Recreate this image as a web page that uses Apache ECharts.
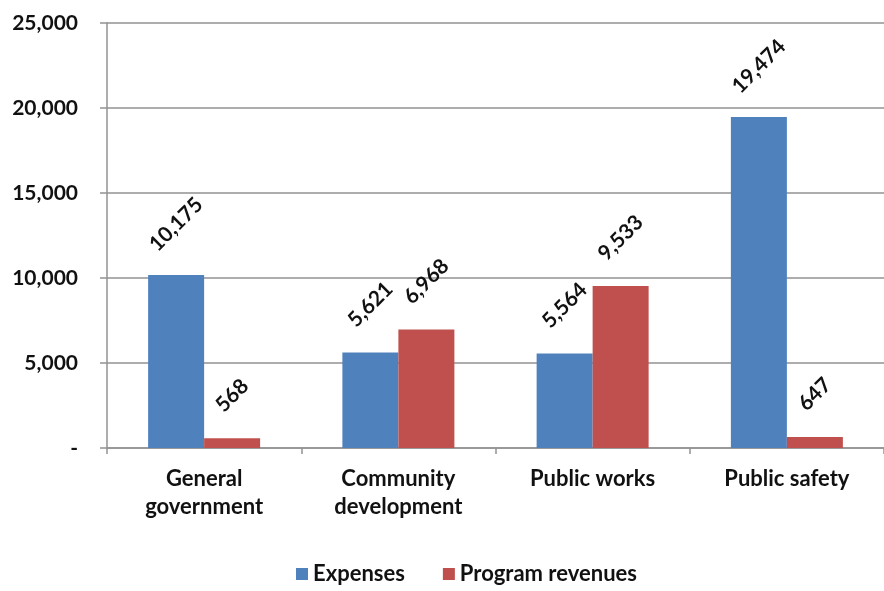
<!DOCTYPE html>
<html>
<head>
<meta charset="utf-8">
<script src="https://cdn.jsdelivr.net/npm/echarts@6/dist/echarts.min.js"></script>
<style>html,body{margin:0;padding:0;background:#fff}#c{width:884px;height:591px}</style>
</head>
<body>
<div id="c"></div>
<script>
var categories = ['General\ngovernment', 'Community\ndevelopment', 'Public works', 'Public safety'];
var expenses = [10175, 5621, 5564, 19474];
var programRevenues = [568, 6968, 9533, 647];
var yTicks = [0, 5000, 10000, 15000, 20000, 25000];

var FONT = 'Lato';
function fmt(v) { return v === 0 ? '-' : v.toLocaleString('en-US'); }
function labelled(values) {
  return values.map(function (v) {
    var n = fmt(v).length;
    return { value: v, label: { distance: 35 + 2.6 * n } };
  });
}
var labelStyle = {
  show: true, position: 'top', rotate: 45, align: 'center', verticalAlign: 'middle',
  fontFamily: FONT, fontWeight: 'bold', fontSize: 21, color: '#111',
  formatter: function (p) { return fmt(p.value); }
};

var chart = echarts.init(document.getElementById('c'), null, { renderer: 'canvas' });
chart.setOption({
  animation: false,
  backgroundColor: '#fff',
  grid: { left: 107, top: 23, bottom: 143, right: -9, containLabel: false },
  legend: {
    bottom: 1, left: 291, itemWidth: 12, itemHeight: 12, itemGap: 38, icon: 'rect',
    textStyle: { fontFamily: FONT, fontWeight: 'bold', fontSize: 22, color: '#111' },
    data: ['Expenses', 'Program revenues']
  },
  xAxis: {
    type: 'category', data: categories,
    axisLine: { lineStyle: { color: '#929292', width: 1.5 } },
    axisTick: { show: true, length: 6, lineStyle: { color: '#929292', width: 1.5 } },
    axisLabel: { fontFamily: FONT, fontWeight: 'bold', fontSize: 22, color: '#111', lineHeight: 28, margin: 17, interval: 0 }
  },
  yAxis: {
    type: 'value', min: yTicks[0], max: yTicks[yTicks.length - 1], interval: 5000,
    axisLine: { show: true, lineStyle: { color: '#929292', width: 1.5 } },
    axisTick: { show: true, length: 7, lineStyle: { color: '#929292', width: 1.5 } },
    splitLine: { lineStyle: { color: '#929292', width: 1.5 } },
    axisLabel: { fontFamily: FONT, fontWeight: 'bold', fontSize: 21, color: '#111', margin: 29, formatter: fmt }
  },
  series: [
    { name: 'Expenses', type: 'bar', barWidth: 56, barGap: '0%', itemStyle: { color: '#4F81BD' }, label: labelStyle, data: labelled(expenses) },
    { name: 'Program revenues', type: 'bar', barWidth: 56, barGap: '0%', itemStyle: { color: '#C0504D' }, label: labelStyle, data: labelled(programRevenues) }
  ]
});
</script>
</body>
</html>
